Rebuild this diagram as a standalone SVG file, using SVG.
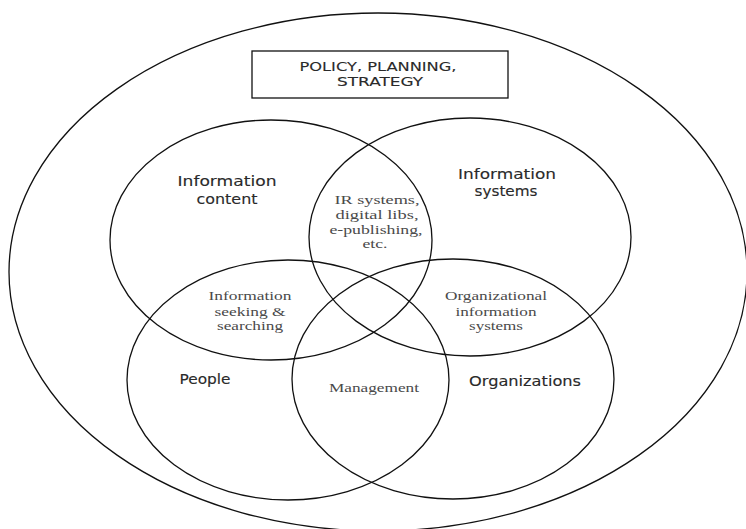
<svg xmlns="http://www.w3.org/2000/svg" width="746" height="529" viewBox="0 0 746 529">
<style>
.ln{fill:none;stroke:#111;stroke-width:1.3}
.cm{font-family:"DejaVu Sans","Liberation Sans",sans-serif;fill:#2a2a2a;text-anchor:middle;stroke:#2a2a2a;stroke-width:0.12}
.sf{font-family:"Liberation Serif","DejaVu Serif",serif;fill:#4a4a4a;font-size:13.5px;text-anchor:middle}
</style>
<rect width="746" height="529" fill="#fff"/>
<g id="policy">
<ellipse class="ln" cx="378" cy="272" rx="369" ry="259"/>
<rect class="ln" x="252" y="51" width="256" height="47"/>
<text class="cm" font-size="12.5" x="378" y="71" textLength="157" lengthAdjust="spacingAndGlyphs">POLICY, PLANNING,</text>
<text class="cm" font-size="12.5" x="380" y="86" textLength="86" lengthAdjust="spacingAndGlyphs">STRATEGY</text>
</g>
<g id="information-content">
<ellipse class="ln" cx="271" cy="240" rx="161" ry="120"/>
<text class="cm" font-size="14" x="227" y="186" textLength="99" lengthAdjust="spacingAndGlyphs">Information</text>
<text class="cm" font-size="14" x="227" y="204" textLength="61" lengthAdjust="spacingAndGlyphs">content</text>
</g>
<g id="information-systems">
<ellipse class="ln" cx="470" cy="237" rx="161" ry="119"/>
<text class="cm" font-size="14" x="507" y="179" textLength="98" lengthAdjust="spacingAndGlyphs">Information</text>
<text class="cm" font-size="14" x="506" y="196" textLength="63" lengthAdjust="spacingAndGlyphs">systems</text>
</g>
<g id="people">
<ellipse class="ln" cx="288" cy="380" rx="161" ry="120"/>
<text class="cm" font-size="14" x="205" y="384" textLength="51" lengthAdjust="spacingAndGlyphs">People</text>
</g>
<g id="organizations">
<ellipse class="ln" cx="453" cy="379" rx="161" ry="120"/>
<text class="cm" font-size="14" x="525" y="386" textLength="112" lengthAdjust="spacingAndGlyphs">Organizations</text>
</g>
<g id="ir-systems">
<text class="sf" x="377" y="204" textLength="85" lengthAdjust="spacingAndGlyphs">IR systems,</text>
<text class="sf" x="377" y="219" textLength="83" lengthAdjust="spacingAndGlyphs">digital libs,</text>
<text class="sf" x="376" y="234" textLength="93" lengthAdjust="spacingAndGlyphs">e-publishing,</text>
<text class="sf" x="375" y="248" textLength="25" lengthAdjust="spacingAndGlyphs">etc.</text>
</g>
<g id="info-seeking">
<text class="sf" x="250" y="300" textLength="83" lengthAdjust="spacingAndGlyphs">Information</text>
<text class="sf" x="250" y="316" textLength="71" lengthAdjust="spacingAndGlyphs">seeking &amp;</text>
<text class="sf" x="250" y="330" textLength="66" lengthAdjust="spacingAndGlyphs">searching</text>
</g>
<g id="org-info-systems">
<text class="sf" x="496" y="300" textLength="102" lengthAdjust="spacingAndGlyphs">Organizational</text>
<text class="sf" x="496" y="316" textLength="81" lengthAdjust="spacingAndGlyphs">information</text>
<text class="sf" x="496" y="330" textLength="54" lengthAdjust="spacingAndGlyphs">systems</text>
</g>
<g id="management">
<text class="sf" x="374" y="392" textLength="90" lengthAdjust="spacingAndGlyphs">Management</text>
</g>
<g id="connectors"></g>
</svg>
